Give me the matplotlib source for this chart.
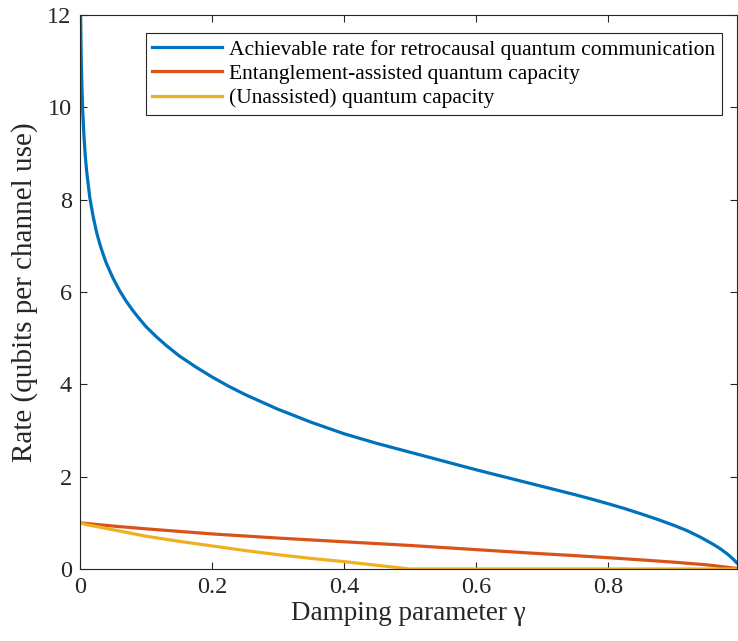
import matplotlib
matplotlib.use("Agg")
import matplotlib.pyplot as plt

# ---- data ----
gamma_retro = [0.0005, 0.001, 0.0015, 0.002, 0.003, 0.004, 0.006, 0.008, 0.01,
               0.012, 0.015, 0.02, 0.025, 0.03, 0.035, 0.04, 0.05, 0.06, 0.07,
               0.08, 0.09, 0.1, 0.115, 0.13, 0.15, 0.175, 0.2, 0.225, 0.25,
               0.3, 0.35, 0.4, 0.45, 0.5, 0.55, 0.6, 0.65, 0.7, 0.75, 0.775,
               0.8, 0.825, 0.85, 0.875, 0.9, 0.92, 0.94, 0.95, 0.96, 0.97,
               0.98, 0.985, 0.99, 0.994, 0.997]
rate_retro = [12.9, 11.96, 11.4, 10.96, 10.4, 9.96, 9.38, 8.95, 8.63,
              8.38, 8.03, 7.63, 7.3, 7.04, 6.82, 6.62, 6.3, 6.03, 5.8,
              5.6, 5.42, 5.25, 5.04, 4.85, 4.62, 4.38, 4.16, 3.96, 3.78,
              3.46, 3.18, 2.93, 2.72, 2.53, 2.34, 2.15, 1.97, 1.79, 1.61, 1.515,
              1.415, 1.31, 1.195, 1.075, 0.945, 0.83, 0.69, 0.61, 0.53, 0.44,
              0.335, 0.275, 0.21, 0.15, 0.11]

gamma_ea = [0.0, 0.05, 0.1, 0.2, 0.3, 0.4, 0.5, 0.6, 0.7, 0.75, 0.8, 0.85,
            0.9, 0.95, 0.997]
rate_ea = [1.0, 0.93, 0.87, 0.76, 0.67, 0.59, 0.51, 0.42, 0.33, 0.29, 0.245,
           0.198, 0.148, 0.09, 0.01]

gamma_q = [0.0, 0.005, 0.01, 0.025, 0.05, 0.075, 0.1, 0.15, 0.2, 0.25, 0.3, 0.35,
           0.4, 0.45, 0.5, 0.997]
rate_q = [1.0, 0.98, 0.96, 0.92, 0.85, 0.78, 0.71, 0.6, 0.5, 0.4, 0.31, 0.23,
          0.16, 0.08, 0.0, 0.0]

labels = ["Achievable rate for retrocausal quantum communication",
          "Entanglement-assisted quantum capacity",
          "(Unassisted) quantum capacity"]
colors = ["#0072BD", "#D95319", "#EDB120"]
xticks = [0, 0.2, 0.4, 0.6, 0.8]
xticklabels = ["0", "0.2", "0.4", "0.6", "0.8"]
yticks = [0, 2, 4, 6, 8, 10, 12]

plt.rcParams['font.family'] = ['Liberation Serif', 'DejaVu Serif']

W, H = 738, 641
fig = plt.figure(figsize=(W / 100, H / 100), dpi=100)
ax = fig.add_axes([80 / W, (H - 569) / H, (737 - 80) / W, (569 - 15) / H])

ax.plot(gamma_retro, rate_retro, color=colors[0], lw=2.3, label=labels[0])
ax.plot(gamma_ea, rate_ea, color=colors[1], lw=2.3, label=labels[1])
ax.plot(gamma_q, rate_q, color=colors[2], lw=2.3, label=labels[2])

ax.set_xlim(0, 0.9955)
ax.set_ylim(0, 12)
ax.set_xticks(xticks)
ax.set_xticklabels(xticklabels)
ax.set_yticks(yticks)
ax.tick_params(direction='in', length=5, width=0.8, colors='#262626',
               labelsize=17.5, top=True, right=True, pad=6)
for lab in ax.get_xticklabels() + ax.get_yticklabels():
    lab.set_color('#262626')
for s in ax.spines.values():
    s.set_color('#262626')
    s.set_linewidth(0.8)

ax.set_xlabel("Damping parameter \u03b3", fontsize=19.5, color='#262626', labelpad=2)
ax.set_ylabel("Rate (qubits per channel use)", fontsize=21, color='#262626', labelpad=7)

leg = ax.legend(loc='upper right', bbox_to_anchor=(0.977, 0.9675), fontsize=15.5,
                frameon=True, fancybox=False, framealpha=1, edgecolor='#262626',
                handlelength=3.25, handletextpad=0.33, labelspacing=0.2,
                borderpad=0.3, borderaxespad=0)
leg.get_frame().set_linewidth(0.8)

fig.savefig("out.png", dpi=100)
